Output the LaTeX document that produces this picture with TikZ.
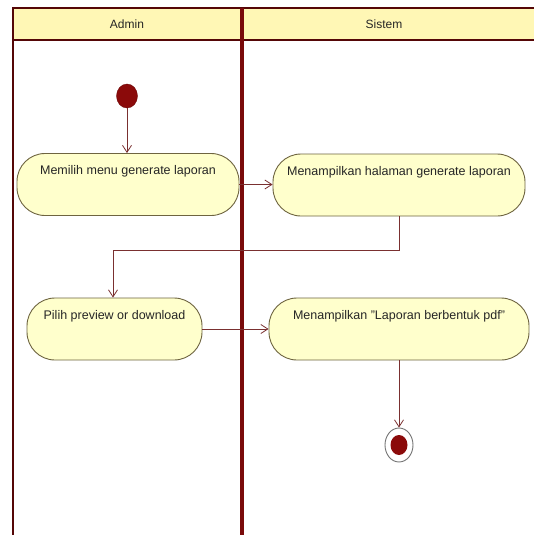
\documentclass[tikz,border=0pt]{standalone}
\usepackage{fontspec}
\setmainfont{Liberation Sans}
\usetikzlibrary{arrows.meta,shapes.geometric}
\definecolor{actfill}{HTML}{FFFFCC}
\definecolor{actdraw}{HTML}{6E6440}
\definecolor{headfill}{HTML}{FFF7B5}
\definecolor{lane}{HTML}{7A0A0A}
\definecolor{flow}{HTML}{7A3030}
\definecolor{dot}{HTML}{8B0A0A}
\tikzset{
  actbox/.style={draw=actdraw, line width=0.9pt, fill=actfill, rounded corners=28pt,
    inner xsep=0pt, inner ysep=0pt, text height=21pt, text depth=41pt, align=center,
    font=\fontsize{12.5}{14}\selectfont, text=black!85},
  flowline/.style={draw=flow, line width=0.8pt, -{Straight Barb[length=7pt,width=9pt]}},
  lanelabel/.style={font=\fontsize{12}{14}\selectfont, text=black!85},
}
\begin{document}
\begin{tikzpicture}[x=1pt,y=-1pt]
\useasboundingbox (0,0) rectangle (534,535);
\fill[white] (0,0) rectangle (534,535);
% swimlane frame
\fill[headfill] (13,8) rectangle (534,40);
\draw[lane!70!black, line width=1.6pt] (534,8) -- (13,8) -- (13,535);
\draw[lane!70!black, line width=1.2pt] (13,40) -- (534,40);
\draw[lane, line width=4pt] (242,8) -- (242,535);
\node[lanelabel] (ladmin) at (127,24) {Admin};
\node[lanelabel] (lsistem) at (384,24) {Sistem};
% nodes
\node[ellipse, draw=dot!80!black, fill=dot, minimum width=21pt, minimum height=24pt, inner sep=0pt] (start) at (127,96) {};
\node[actbox, minimum width=222pt] (a1) at (128,184.5) {Memilih menu generate laporan};
\node[actbox, minimum width=252pt] (a2) at (399,185) {Menampilkan halaman generate laporan};
\node[actbox, minimum width=175pt] (a3) at (114.5,329) {Pilih preview or download};
\node[actbox, minimum width=260pt] (a4) at (399,329) {Menampilkan "Laporan berbentuk pdf"};
\node[ellipse, draw=black!55, line width=0.9pt, fill=white, minimum width=28pt, minimum height=34pt, inner sep=0pt] (end) at (399,445) {};
\node[ellipse, fill=dot, minimum width=17pt, minimum height=20pt, inner sep=0pt] (endin) at (end.center) {};
% connectors
\draw[flowline] (start) -- (a1.north -| start);
\draw[flowline] (a1.east) -- (a2.west |- a1.east);
\coordinate (b1) at (399,250);
\coordinate (b2) at (113,250);
\draw[flowline] (a2.south -| b1) -- (b1) -- (b2) -- (a3.north -| b2);
\draw[flowline] (a3.east) -- (a4.west);
\draw[flowline] (a4.south) -- (end.north);
\end{tikzpicture}
\end{document}
